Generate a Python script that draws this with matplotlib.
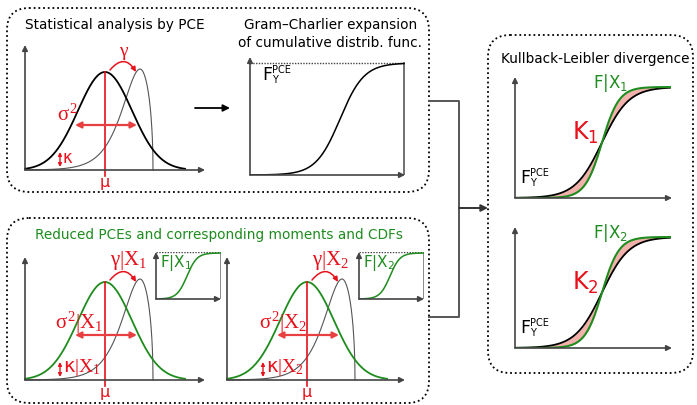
import numpy as np
import matplotlib.pyplot as plt
from matplotlib.patches import FancyBboxPatch

plt.rcParams['font.family'] = 'DejaVu Sans'
plt.rcParams['mathtext.fontset'] = 'custom'
plt.rcParams['mathtext.rm'] = 'Liberation Serif'
plt.rcParams['mathtext.it'] = 'Liberation Serif'
plt.rcParams['mathtext.sf'] = 'DejaVu Sans'

W, H = 697, 405
RED = '#e8101a'
RED_SOFT = '#e84040'
GREEN = '#1e8c1e'
PINK = '#f2b2ab'
AXC = '#444444'
SERIF = 'Liberation Serif'

# schematic shapes (all in panel pixel units)
pdf_domain = [0, 160]
normal_mu, normal_sigma, normal_height = 80, 27, 98
skew_peak, skew_cut, skew_scale, skew_height = 115, 128, 14.6, 101
cdf_top_center, cdf_top_scale, cdf_top_height = 90, 12, 112
kl_center, kl_black_scale, kl_green_scale, kl_height = 87, 13.5, 8.5, 111
inset_center, inset_scale = 31, 5

fig = plt.figure(figsize=(W / 100, H / 100), dpi=100)
ax0 = fig.add_axes([0, 0, 1, 1])
ax0.set_xlim(0, W)
ax0.set_ylim(H, 0)
ax0.axis('off')


def arrow(ax, start, end, color=AXC, lw=1.2, style='-|>', ms=8, **kw):
    ax.annotate('', xy=end, xytext=start, annotation_clip=False,
                arrowprops=dict(arrowstyle=style, color=color, lw=lw, shrinkA=0,
                                shrinkB=0, mutation_scale=ms, **kw))


def f_pce(ax, x, y):
    t = ax.text(x, y, 'F', fontsize=12.5, ha='left', va='center')
    ax.annotate('PCE', xy=(1.0, 0.78), xycoords=t, fontsize=7, ha='left', va='center')
    ax.annotate('Y', xy=(1.05, 0.2), xycoords=t, fontsize=7, ha='left', va='center')


def panel(x0, y0, w, h):
    # x0, y0: pixel position of the origin, w, h: axis lengths in pixels
    ax = fig.add_axes([x0 / W, (H - y0) / H, w / W, h / H])
    ax.set_xlim(0, w)
    ax.set_ylim(0, h)
    ax.axis('off')
    arrow(ax, (0, 0), (0, h))
    arrow(ax, (0, 0), (w, 0))
    return ax


def normal_pdf(x):
    return normal_height * np.exp(-(x - normal_mu) ** 2 / (2 * normal_sigma ** 2))


def skew_pdf(x):
    z = (x - skew_peak) / skew_scale
    left = skew_height * np.exp(z - np.exp(z) + 1)
    t = np.clip((x - skew_peak) / (skew_cut - skew_peak), 0, 1)
    right = skew_height * np.sqrt(1 - t ** 2)
    return np.where(x <= skew_peak, left, right)


def logistic(x, c, s, top):
    return top / (1 + np.exp(-(x - c) / s))


def draw_pdf(ax, color, cond, sig_x, kap_x):
    x = np.linspace(*pdf_domain, 400)
    xs = np.linspace(0, skew_cut, 800)
    ax.plot(xs, skew_pdf(xs), color='#555555', lw=0.8, clip_on=False)
    ax.plot(x, normal_pdf(x), color=color, lw=1.3, clip_on=False)
    ax.plot([normal_mu, normal_mu], [-6, normal_height], color=RED, lw=1.2, clip_on=False)
    ax.text(normal_mu, -13, 'μ', color=RED, fontsize=11.5, ha='center', va='center')
    arrow(ax, (normal_mu + 5, normal_height + 2), (skew_peak - 4, skew_height - 3),
          color=RED, lw=1.1, ms=7, connectionstyle='arc3,rad=-0.7')
    arrow(ax, (50, 45), (112, 45), color=RED_SOFT, lw=1.6, style='<|-|>', ms=9)
    arrow(ax, (kap_x, 3), (kap_x, 18), color=RED, lw=1.0, style='<|-|>', ms=5)
    if cond is None:
        ax.text(normal_mu + 18, 119, 'γ', color=RED, fontsize=14, family=SERIF,
                ha='center', va='center')
        ax.text(sig_x, 56, r'$\sigma^2$', color=RED, fontsize=15, ha='center', va='center')
        ax.text(kap_x + 3, 12, 'κ', color=RED, fontsize=12, ha='left', va='center')
    else:
        ax.text(normal_mu + 5, 120, r'$\gamma|\mathrm{X}_%s$' % cond, color=RED,
                fontsize=15, ha='left', va='center')
        ax.text(sig_x, 57, r'$\sigma^2|\mathrm{X}_%s$' % cond, color=RED,
                fontsize=15, ha='left', va='center')
        ax.text(kap_x + 3, 12, r'κ$|\mathrm{X}_%s$' % cond, color=RED,
                fontsize=14, ha='left', va='center')


def draw_inset(x0, y0, cond):
    w, h = 65, 47
    ax = panel(x0, y0, w, h)
    ax.plot([0, w], [h, h], color=AXC, lw=1.0, ls=(0, (1, 1)))
    ax.plot([w, w], [0, h], color='#777777', lw=1.2)
    x = np.linspace(0, w, 200)
    ax.plot(x, logistic(x, inset_center, inset_scale, h - 1), color=GREEN, lw=1.1)
    ax.text(4, 36, r'$\mathsf{F|X_%s}$' % cond, color=GREEN, fontsize=11,
            ha='left', va='center')


def draw_kl(y0, cond):
    ax = panel(515, y0, 157, 121)
    x = np.linspace(0, 155, 400)
    black = logistic(x, kl_center, kl_black_scale, kl_height)
    green = logistic(x, kl_center, kl_green_scale, kl_height)
    ax.fill_between(x, black, green, color=PINK, lw=0)
    ax.plot(x, black, color='black', lw=1.3)
    ax.plot(x, green, color=GREEN, lw=1.5)
    ax.text(78, 115, r'$\mathsf{F|X_%s}$' % cond, color=GREEN, fontsize=12,
            ha='left', va='center')
    ax.text(57, 65, r'$\mathsf{K_%s}$' % cond, color=RED, fontsize=17,
            ha='left', va='center')
    f_pce(ax, 5, 20)


# dotted frames
for x0, y0, x1, y1 in [(7, 8, 429, 192), (7, 218, 429, 403), (488, 35, 693, 373)]:
    ax0.add_patch(FancyBboxPatch((x0, y0), x1 - x0, y1 - y0,
                                 boxstyle='round,pad=0,rounding_size=22', fill=False,
                                 ec='black', lw=1.3, ls=(0, (1, 1.6))))

# connectors
ax0.plot([429, 459, 459, 429], [101, 101, 317, 317], color='#555555', lw=1.4)
arrow(ax0, (459, 208), (488, 208), color='#333333', lw=1.4, ms=10)
arrow(ax0, (195, 108), (230, 108), color='black', lw=1.3, ms=10)

# titles
TS = 9.8
ax0.text(25, 25, 'Statistical analysis by PCE', fontsize=TS, ha='left', va='center')
ax0.text(417, 25, 'Gram\u2013Charlier expansion', fontsize=TS, ha='right', va='center')
ax0.text(422, 43, 'of cumulative distrib. func.', fontsize=TS, ha='right', va='center')
ax0.text(501, 59, 'Kullback-Leibler divergence', fontsize=TS, ha='left', va='center')
ax0.text(35, 235, 'Reduced PCEs and corresponding moments and CDFs', fontsize=TS,
         color=GREEN, ha='left', va='center')

# top row
p1 = panel(25, 170, 180, 125)
draw_pdf(p1, 'black', None, 42, 35)

p2 = panel(250, 175, 155, 118)
xc = np.linspace(0, 154, 400)
p2.plot([0, 154], [cdf_top_height, cdf_top_height], color=AXC, lw=1.0, ls=(0, (1, 1)))
p2.plot([154, 154], [0, cdf_top_height], color='#666666', lw=1.3)
p2.plot(xc, logistic(xc, cdf_top_center, cdf_top_scale, cdf_top_height), color='black', lw=1.1)
f_pce(p2, 12, 100)

# bottom row
p3 = panel(25, 380, 180, 123)
draw_pdf(p3, GREEN, '1', 30, 35)
p4 = panel(227, 380, 178, 123)
draw_pdf(p4, GREEN, '2', 32, 36)
draw_inset(156, 299, '1')
draw_inset(359, 299, '2')

# right column
draw_kl(198, '1')
draw_kl(348, '2')

fig.savefig('out.png', dpi=100)
